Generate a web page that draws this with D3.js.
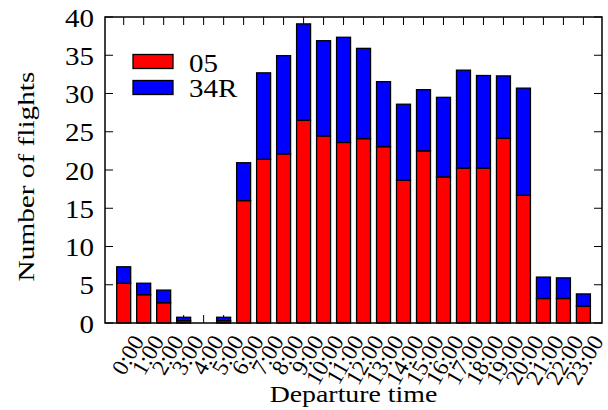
<!DOCTYPE html>
<html>
<head>
<meta charset="utf-8">
<script src="https://cdn.jsdelivr.net/npm/d3@7"></script>
<style>
  body { margin: 0; background: #fff; }
</style>
</head>
<body>
<div id="chart"></div>
<script>
const hours = ["0:00", "1:00", "2:00", "3:00", "4:00", "5:00", "6:00", "7:00", "8:00", "9:00", "10:00", "11:00",
               "12:00", "13:00", "14:00", "15:00", "16:00", "17:00", "18:00", "19:00", "20:00", "21:00", "22:00", "23:00"]
const rwy05 = [5.2, 3.7, 2.65, 0.3, 0, 0.3, 16.0, 21.4, 22.1, 26.5, 24.45, 23.6,
               24.1, 23.05, 18.65, 22.5, 19.1, 20.25, 20.25, 24.15, 16.7, 3.2, 3.2, 2.2]
const rwy34R = [2.15, 1.5, 1.65, 0.45, 0, 0.45, 4.95, 11.3, 12.85, 12.6, 12.45, 13.75,
                11.8, 8.5, 9.95, 8.0, 10.4, 12.8, 12.1, 8.15, 14.0, 2.8, 2.7, 1.6]
const yTicks = [0, 5, 10, 15, 20, 25, 30, 35, 40]
const seriesNames = ["05", "34R"]
const seriesColors = ["#ff0000", "#0000ff"]

const width = 608, height = 410
const margin = { left: 105, right: 6, top: 17, bottom: 87 }
const tick = 8
const stretch = 1.16   // the reference text is a bit wider than Liberation Serif
const font = "'Liberation Serif', 'DejaVu Serif', serif"

const svg = d3.select("#chart")
    .append("svg")
    .attr("width", width)
    .attr("height", height)
    .attr("font-family", font)

const x = d3.scaleLinear()
    .domain([-0.935, 23.93])
    .range([margin.left, width - margin.right])

const y = d3.scaleLinear()
    .domain([0, 40])
    .range([height - margin.bottom, margin.top])

const barW = x(0.7) - x(0)

// ticks (drawn under bars, like gnuplot)
const ticks = svg.append("g").attr("stroke", "#000").attr("stroke-width", 1)
hours.forEach((h, i) => {
    ticks.append("line").attr("x1", x(i)).attr("x2", x(i)).attr("y1", y(0)).attr("y2", y(0) - tick)
    ticks.append("line").attr("x1", x(i)).attr("x2", x(i)).attr("y1", y(40)).attr("y2", y(40) + tick)
})
yTicks.forEach(v => {
    ticks.append("line").attr("x1", x.range()[0]).attr("x2", x.range()[0] + tick).attr("y1", y(v)).attr("y2", y(v))
    ticks.append("line").attr("x1", x.range()[1]).attr("x2", x.range()[1] - tick).attr("y1", y(v)).attr("y2", y(v))
})

const stacked = d3.stack().keys([0, 1]).value((d, k) => d[k])(hours.map((h, i) => [rwy05[i], rwy34R[i]]))

svg.append("g")
    .selectAll("g")
    .data(stacked)
    .join("g")
    .attr("fill", (d, k) => seriesColors[k])
    .attr("stroke", "#000")
    .attr("stroke-width", 1.3)
    .selectAll("rect")
    .data(d => d.map((s, i) => ({ s, i })).filter(({ s }) => s[1] - s[0] > 0))
    .join("rect")
    .attr("x", ({ i }) => x(i) - barW / 2)
    .attr("width", barW)
    .attr("y", ({ s }) => y(s[1]))
    .attr("height", ({ s }) => y(s[0]) - y(s[1]))

// frame
svg.append("rect")
    .attr("x", x.range()[0])
    .attr("y", y(40))
    .attr("width", x.range()[1] - x.range()[0])
    .attr("height", y(0) - y(40))
    .attr("fill", "none")
    .attr("stroke", "#000")
    .attr("stroke-width", 1.5)

// y tick labels
svg.append("g")
    .selectAll("text")
    .data(yTicks)
    .join("text")
    .attr("transform", d => `translate(${x.range()[0] - 11}, ${y(d) + 9.5}) scale(${stretch}, 1)`)
    .attr("font-size", 25)
    .style("text-anchor", "end")
    .text(d => d)

// x tick labels
svg.append("g")
    .selectAll("text")
    .data(hours)
    .join("text")
    .attr("transform", (d, i) => `translate(${x(i) + 7}, ${y(0) + 10}) rotate(-60)`)
    .attr("dy", "0.7em")
    .attr("font-size", 23)
    .style("text-anchor", "end")
    .text(d => d)

svg.append("text")
    .attr("transform", `translate(${(x.range()[0] + x.range()[1]) / 2}, 401.5) scale(${stretch}, 1)`)
    .attr("font-size", 24)
    .style("text-anchor", "middle")
    .text("Departure time")

svg.append("text")
    .attr("transform", `translate(33.5, 176.5) rotate(-90) scale(1.22, 1)`)
    .attr("font-size", 24)
    .style("text-anchor", "middle")
    .text("Number of flights")

// legend
const legend = svg.append("g")
seriesNames.forEach((name, k) => {
    legend.append("rect")
        .attr("x", 133)
        .attr("y", 54.5 + k * 26)
        .attr("width", 40)
        .attr("height", 14)
        .attr("fill", seriesColors[k])
        .attr("stroke", "#000")
        .attr("stroke-width", 1.3)
    legend.append("text")
        .attr("transform", `translate(189, ${71.5 + k * 25}) scale(${stretch}, 1)`)
        .attr("font-size", 25)
        .text(name)
})
</script>
</body>
</html>
